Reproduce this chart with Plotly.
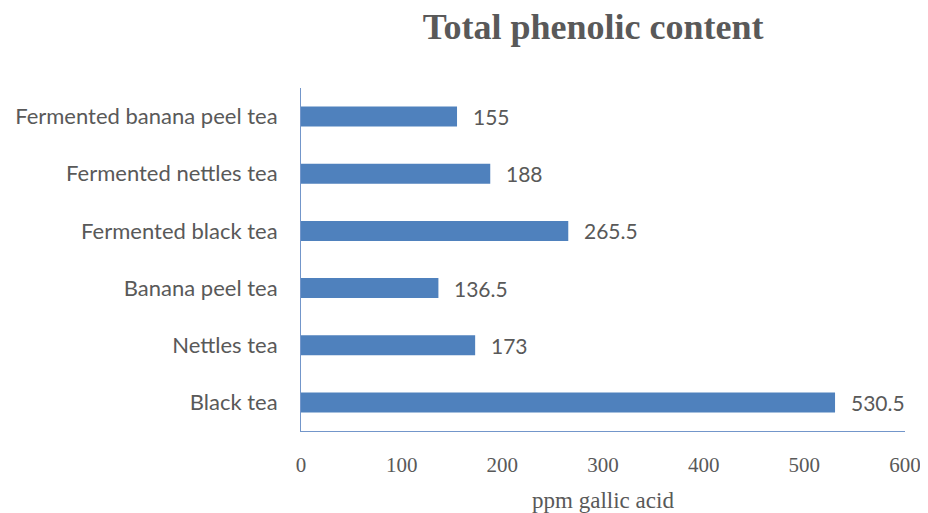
import plotly.graph_objects as go

categories = ["Black tea", "Nettles tea", "Banana peel tea", "Fermented black tea",
              "Fermented nettles tea", "Fermented banana peel tea"]
values = [530.5, 173, 136.5, 265.5, 188, 155]
value_labels = ["530.5", "173", "136.5", "265.5", "188", "155"]
tick_vals = [0, 100, 200, 300, 400, 500, 600]

bar_color = "#4F81BD"
text_color = "#595959"

fig = go.Figure()
fig.add_trace(go.Bar(
    y=categories, x=values, orientation="h",
    marker=dict(color=bar_color, line=dict(width=0)),
    hoverinfo="skip",
))

for c, v, t in zip(categories, values, value_labels):
    fig.add_annotation(x=v, y=c, text=t, showarrow=False, xanchor="left",
                       xshift=14, font=dict(family="Lato", size=21, color=text_color))

fig.update_layout(
    width=920, height=505,
    margin=dict(l=293, r=23, t=80, b=82, autoexpand=False),
    paper_bgcolor="white", plot_bgcolor="white",
    bargap=0.65,
    showlegend=False,
    title=dict(text="<b>Total phenolic content</b>", x=0.636, xanchor="center",
               y=0.964, yanchor="middle",
               font=dict(family="Liberation Serif", size=36, color=text_color)),
    xaxis=dict(range=[0, 600], tickvals=tick_vals, showgrid=False, zeroline=False,
               showline=True, linecolor="#7396CA", linewidth=1, automargin=False,
               ticks="", ticklabelstandoff=15,
               tickfont=dict(family="Liberation Serif", size=21, color=text_color),
               title=dict(text="ppm gallic acid", standoff=15,
                          font=dict(family="Liberation Serif", size=23, color=text_color))),
    yaxis=dict(showgrid=False, zeroline=False, showline=True, linecolor="#7396CA",
               linewidth=1, ticks="", ticklabelstandoff=18, automargin=False,
               categoryorder="array", categoryarray=categories,
               tickfont=dict(family="Lato", size=22, color=text_color)),
)

fig.write_html("out.html")
